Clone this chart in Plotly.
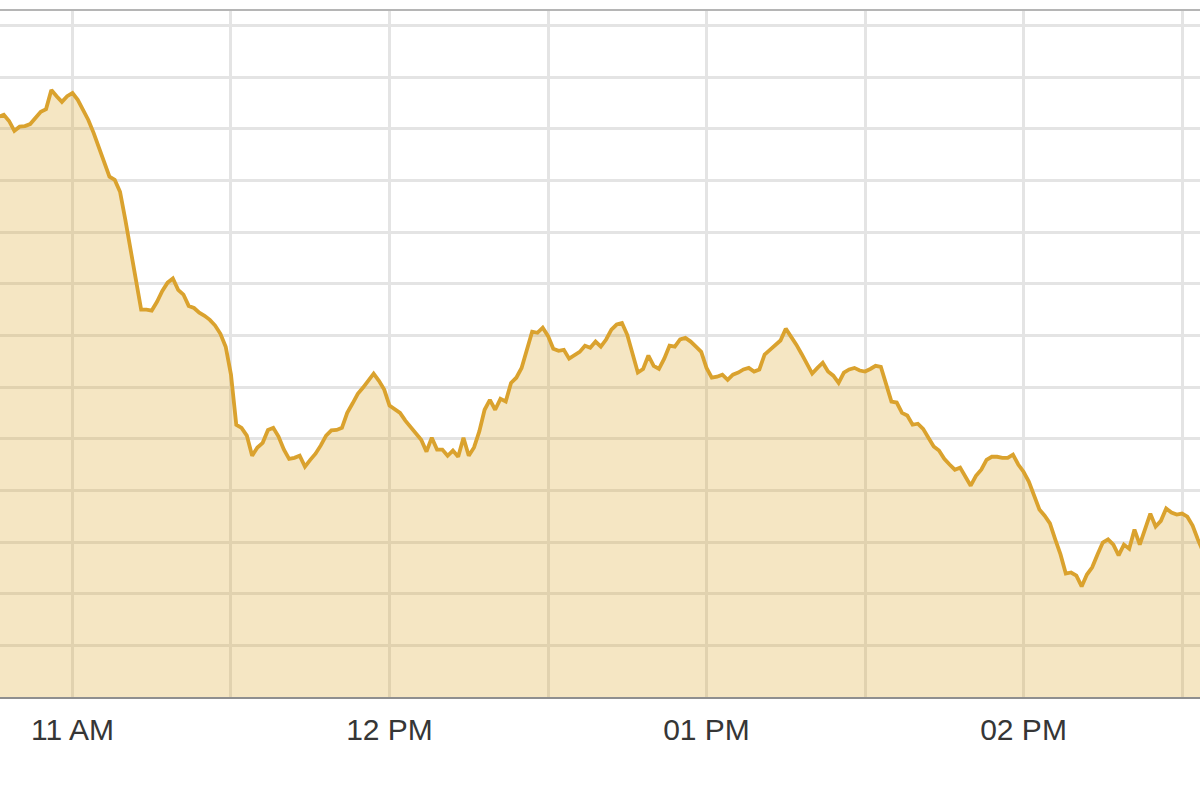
import pandas as pd
import plotly.graph_objects as go

# one-minute samples starting 10:46
start_time = "2021-01-01 10:46"
prices = [
    1791.23, 1791.27, 1791.15, 1790.96, 1791.04, 1791.05, 1791.09, 1791.21, 1791.33, 1791.38,
    1791.75, 1791.63, 1791.52, 1791.63, 1791.69, 1791.56, 1791.38, 1791.17, 1790.92, 1790.63,
    1790.32, 1790.07, 1790.01, 1789.78, 1789.24, 1788.62, 1788.08, 1787.50, 1787.50, 1787.48,
    1787.65, 1787.86, 1788.02, 1788.10, 1787.88, 1787.79, 1787.57, 1787.53, 1787.44, 1787.38,
    1787.30, 1787.19, 1787.03, 1786.78, 1786.24, 1785.27, 1785.21, 1785.06, 1784.67, 1784.83,
    1784.92, 1785.17, 1785.21, 1785.04, 1784.79, 1784.61, 1784.63, 1784.67, 1784.46, 1784.59,
    1784.71, 1784.87, 1785.06, 1785.16, 1785.17, 1785.21, 1785.50, 1785.68, 1785.87, 1785.99,
    1786.14, 1786.26, 1786.12, 1785.95, 1785.64, 1785.56, 1785.50, 1785.35, 1785.23, 1785.12,
    1784.98, 1784.75, 1785.02, 1784.79, 1784.79, 1784.67, 1784.77, 1784.65, 1785.02, 1784.67,
    1784.83, 1785.14, 1785.56, 1785.75, 1785.56, 1785.77, 1785.72, 1786.08, 1786.18, 1786.37,
    1786.72, 1787.07, 1787.05, 1787.15, 1786.99, 1786.74, 1786.70, 1786.72, 1786.55, 1786.61,
    1786.68, 1786.80, 1786.76, 1786.88, 1786.78, 1786.92, 1787.11, 1787.21, 1787.24, 1787.01,
    1786.63, 1786.28, 1786.35, 1786.61, 1786.41, 1786.35, 1786.55, 1786.80, 1786.78, 1786.92,
    1786.95, 1786.88, 1786.78, 1786.68, 1786.37, 1786.18, 1786.20, 1786.24, 1786.14, 1786.24,
    1786.28, 1786.34, 1786.37, 1786.30, 1786.34, 1786.63, 1786.72, 1786.82, 1786.90, 1787.13,
    1786.99, 1786.82, 1786.64, 1786.45, 1786.26, 1786.37, 1786.47, 1786.30, 1786.22, 1786.08,
    1786.28, 1786.34, 1786.37, 1786.32, 1786.30, 1786.35, 1786.41, 1786.39, 1786.08, 1785.72,
    1785.70, 1785.50, 1785.45, 1785.27, 1785.29, 1785.19, 1785.02, 1784.85, 1784.77, 1784.61,
    1784.50, 1784.40, 1784.44, 1784.27, 1784.09, 1784.28, 1784.40, 1784.59, 1784.65, 1784.65,
    1784.63, 1784.63, 1784.69, 1784.50, 1784.36, 1784.17, 1783.90, 1783.63, 1783.51, 1783.36,
    1783.05, 1782.76, 1782.39, 1782.41, 1782.35, 1782.14, 1782.37, 1782.51, 1782.76, 1782.99,
    1783.05, 1782.95, 1782.74, 1782.95, 1782.87, 1783.24, 1782.95, 1783.24, 1783.55, 1783.30,
    1783.41, 1783.65, 1783.57, 1783.53, 1783.55, 1783.49, 1783.32, 1783.05, 1782.81,
]
times = pd.date_range(start_time, periods=len(prices), freq="min")

tick_times = ["2021-01-01 11:00", "2021-01-01 11:30", "2021-01-01 12:00", "2021-01-01 12:30",
              "2021-01-01 13:00", "2021-01-01 13:30", "2021-01-01 14:00", "2021-01-01 14:30"]
tick_labels = ["11 AM", "", "12 PM", "", "01 PM", "", "02 PM", ""]

x_range = ["2021-01-01 10:46:17", "2021-01-01 14:33:24"]
y_range = [1780, 1793.298]

fig = go.Figure()
fig.add_trace(go.Scatter(
    x=times, y=prices, mode="lines",
    line=dict(color="#DAA22E", width=3.8),
    fill="tozeroy", fillcolor="rgba(218,165,40,0.28)",
    hoverinfo="skip", showlegend=False,
))

fig.update_layout(
    width=1200, height=799,
    margin=dict(l=0, r=0, t=10, b=101.5),
    paper_bgcolor="white", plot_bgcolor="white",
    font=dict(family="Liberation Sans, Arial, sans-serif"),
    xaxis=dict(
        range=x_range, tickmode="array", tickvals=tick_times, ticktext=tick_labels,
        showgrid=True, gridcolor="#e4e4e4", gridwidth=3,
        showline=True, linecolor="#8f8f8f", linewidth=2,
        ticks="outside", ticklen=5, tickcolor="rgba(0,0,0,0)",
        tickfont=dict(size=30, color="#363636"), zeroline=False,
    ),
    yaxis=dict(
        range=y_range, dtick=1, tick0=1780, showticklabels=False,
        showgrid=True, gridcolor="#e4e4e4", gridwidth=3, zeroline=False,
    ),
    shapes=[dict(type="line", xref="paper", yref="paper", x0=0, x1=1, y0=1, y1=1,
                 line=dict(color="#b5b5b5", width=2))],
)

fig.write_html(
    "out.html",
    config={"responsive": False, "displayModeBar": False},
    post_script="document.body.style.margin='0';document.body.style.overflow='hidden';",
)
